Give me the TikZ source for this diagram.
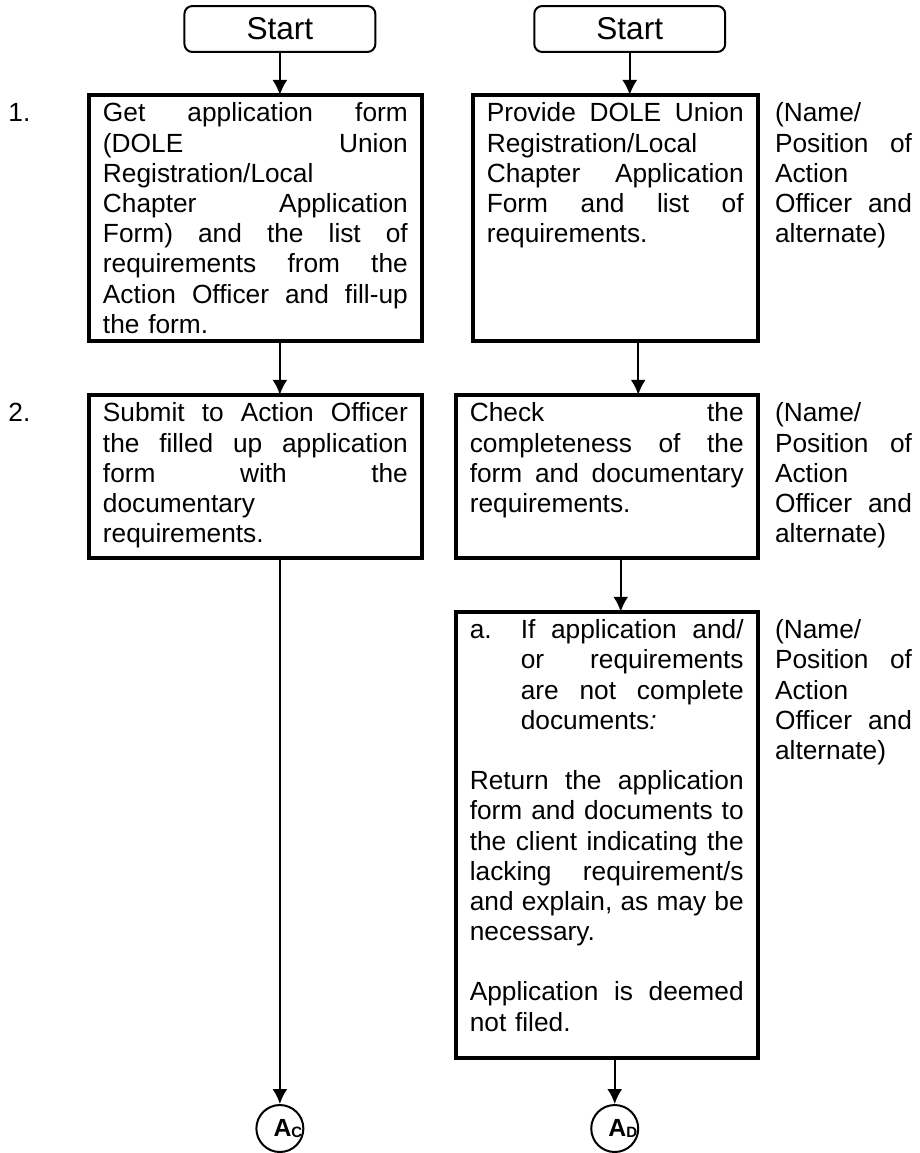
\documentclass[tikz,border=0pt]{standalone}
\usepackage{fontspec}
\setmainfont{Liberation Sans}
\usetikzlibrary{calc, arrows.meta}
\tikzset{>=latex}
\newcommand{\flowfont}{\fontsize{13.15pt}{15.1pt}\selectfont}
\newcommand{\actionofficer}{(Name/\\ Position\hfill of\\ Action\\ Officer\hfill and\\ alternate)}
\newcommand{\connlabel}[1]{\textbf{A\raisebox{-0.5pt}{\fontsize{7.5pt}{7.5pt}\selectfont #1}}}
\tikzset{
  startbox/.style={draw, line width=1pt, rounded corners=4pt, minimum width=95.5pt, minimum height=23pt, font=\fontsize{15.8pt}{18pt}\selectfont},
  stepbox/.style={draw, line width=2pt, anchor=north west, align=left, inner xsep=7pt, inner ysep=0pt, outer sep=0pt, text height=13.5pt, font=\flowfont},
  sidetext/.style={anchor=base west, align=left, inner sep=0pt, text width=68.5pt, font=\flowfont},
  connector/.style={draw, line width=1pt, circle, minimum size=23.5pt, inner sep=0pt},
  flow/.style={line width=1pt, -{Latex[length=7.5pt, width=7.5pt]}}
}

\begin{document}
\begin{tikzpicture}[x=0.5pt, y=-0.5pt]
\fill[white] (0,0) rectangle (920,1153);
% start
\node[startbox] (startL) at (280,29) {Start};
\node[startbox] (startR) at (630,29) {Start};
% step 1
\node[anchor=base west, inner sep=0pt, font=\flowfont] (num1) at (8,122) {1.};
\node[stepbox, text width=152.5pt, text depth=109.5pt] (get) at (89,95) {Get\hfill application\hfill form\\
(DOLE\hfill Union\\
Registration/Local\\
Chapter\hfill Application\\
Form)\hfill and\hfill the\hfill list\hfill of\\
requirements\hfill from\hfill the\\
Action\hfill Officer\hfill and\hfill fill-up\\
the form.};
\node[stepbox, text width=128.5pt, text depth=109.5pt] (provide) at (473,95) {Provide\hfill DOLE\hfill Union\\
Registration/Local\\
Chapter\hfill Application\\
Form\hfill and\hfill list\hfill of\\
requirements.};
\node[sidetext] (officer1) at (775,122) {\actionofficer};
% step 2
\node[anchor=base west, inner sep=0pt, font=\flowfont] (num2) at (8,422) {2.};
\node[stepbox, text width=152.5pt, text depth=68pt] (submit) at (89,395) {Submit\hfill to\hfill Action\hfill Officer\\
the\hfill filled\hfill up\hfill application\\
form\hfill with\hfill the\\
documentary\\
requirements.};
\node[stepbox, text width=137pt, text depth=68pt] (check) at (456,395) {Check\hfill the\\
completeness\hfill of\hfill the\\
form\hfill and\hfill documentary\\
requirements.};
\node[sidetext] (officer2) at (775,422) {\actionofficer};
\node[stepbox, text width=137pt, text depth=209.5pt] (incomplete) at (456,612) {\makebox[25.5pt][l]{a.}If\hfill application\hfill and/\\
\hspace*{25.5pt}or\hfill requirements\\
\hspace*{25.5pt}are\hfill not\hfill complete\\
\hspace*{25.5pt}documents\textit{:}\\[15.1pt]
Return\hfill the\hfill application\\
form\hfill and\hfill documents\hfill to\\
the\hfill client\hfill indicating\hfill the\\
lacking\hfill requirement/s\\
and\hfill explain,\hfill as\hfill may\hfill be\\
necessary.\\[15.1pt]
Application\hfill is\hfill deemed\\
not filed.};
\node[sidetext] (officer3) at (775,639) {\actionofficer};
% connectors
\node[connector, label={[font=\fontsize{12.4pt}{13pt}\selectfont, xshift=4pt]center:\connlabel{C}}] (AC) at (280,1129) {};
\node[connector, label={[font=\fontsize{12.4pt}{13pt}\selectfont, xshift=4pt]center:\connlabel{D}}] (AD) at (615,1129) {};
% arrows
\draw[flow] (startL) -- (startL |- get.north);
\draw[flow] (startR) -- (startR |- provide.north);
\draw[flow] (get.south -| startL) -- (submit.north -| startL);
\draw[flow] ([xshift=11.5pt]provide.south) -- ([xshift=11.5pt]provide.south |- check.north);
\draw[flow] ([xshift=7pt]check.south) -- ([xshift=7pt]check.south |- incomplete.north);
\draw[flow] (submit.south -| AC) -- (AC);
\draw[flow] (incomplete.south -| AD) -- (AD);
\end{tikzpicture}
\end{document}
